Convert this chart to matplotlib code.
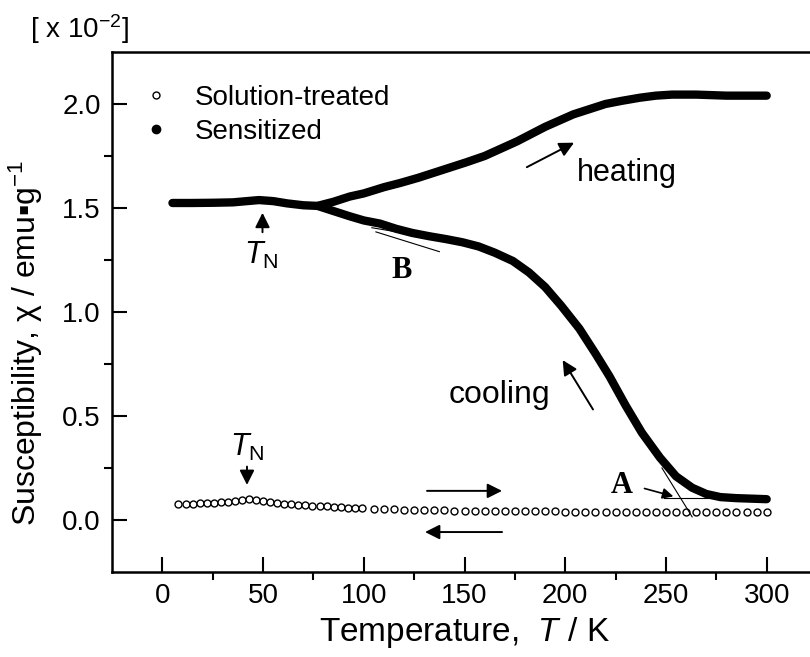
import matplotlib
matplotlib.use("Agg")
import matplotlib.pyplot as plt
from matplotlib.lines import Line2D

plt.rcParams['font.family'] = ['Liberation Sans', 'DejaVu Sans']
plt.rcParams['mathtext.fontset'] = 'custom'
plt.rcParams['mathtext.rm'] = 'Liberation Sans'
plt.rcParams['mathtext.it'] = 'Liberation Sans:italic'

# sensitized, heating branch (T / K, chi x 1e-2 emu/g)
heat_T = [5, 15, 25, 35, 42, 48, 55, 62, 70, 77, 85, 93, 100, 110, 118, 127,
          135, 143, 151, 160, 168, 176, 184, 190, 197, 204, 212, 220, 228, 237,
          245, 253, 265, 280, 300]
heat_chi = [1.524, 1.524, 1.525, 1.527, 1.533, 1.538, 1.533, 1.522, 1.513, 1.51,
            1.53, 1.555, 1.57, 1.60, 1.62, 1.645, 1.67, 1.695, 1.72, 1.75, 1.785,
            1.82, 1.86, 1.89, 1.92, 1.95, 1.975, 2.00, 2.015, 2.03, 2.04, 2.045,
            2.045, 2.04, 2.04]

# sensitized, cooling branch
cool_T = [300, 285, 277, 270, 263, 255, 247, 238, 230, 222, 215, 207, 198, 190,
          182, 174, 165, 157, 149, 141, 132, 124, 116, 108, 100, 93, 85, 77]
cool_chi = [0.10, 0.105, 0.11, 0.125, 0.155, 0.21, 0.30, 0.42, 0.55, 0.69, 0.80,
            0.92, 1.03, 1.12, 1.19, 1.245, 1.285, 1.315, 1.335, 1.35, 1.365,
            1.38, 1.40, 1.425, 1.44, 1.46, 1.485, 1.51]

# solution-treated
sol_T = [8, 11.5, 15, 18.5, 22, 25.5, 29, 32.5, 36, 39.5, 43, 46.5, 50, 53.5, 57,
         60.5, 64, 67.5, 71, 74.5, 78, 81.5, 85, 88.5, 92, 95.5, 99,
         105, 110, 115, 120, 125, 130, 135, 140, 145, 150, 155, 160, 165, 170,
         175, 180, 185, 190, 195, 200, 205, 210, 215, 220, 225, 230, 235, 240,
         245, 250, 255, 260, 265, 270, 275, 280, 285, 290, 295, 300]
sol_chi = [0.077, 0.078, 0.079, 0.080, 0.082, 0.083, 0.085, 0.088, 0.093, 0.097,
           0.100, 0.098, 0.093, 0.088, 0.083, 0.079, 0.076, 0.073, 0.071, 0.069,
           0.067, 0.065, 0.063, 0.061, 0.060, 0.058, 0.057,
           0.055, 0.053, 0.051, 0.050, 0.049, 0.048, 0.047, 0.046, 0.045, 0.044,
           0.044, 0.043, 0.043, 0.042, 0.042, 0.042, 0.041, 0.041, 0.041, 0.040,
           0.040, 0.040, 0.040, 0.040, 0.039, 0.039, 0.039, 0.039, 0.039, 0.039,
           0.038, 0.038, 0.038, 0.038, 0.038, 0.038, 0.038, 0.038, 0.038, 0.038]

fig = plt.figure(figsize=(8.1, 6.57), dpi=100)
ax = fig.add_axes([0.1383, 0.1294, 0.8704, 0.7915])

ax.plot(heat_T, heat_chi, color='k', lw=6, solid_capstyle='round', solid_joinstyle='round')
ax.plot(cool_T, cool_chi, color='k', lw=6, solid_capstyle='round', solid_joinstyle='round')
ax.plot(sol_T, sol_chi, 'o', ms=5, mfc='white', mec='k', mew=1)

ax.set_xlim(-25, 325)
ax.set_ylim(-0.25, 2.25)
ax.set_xticks([0, 50, 100, 150, 200, 250, 300])
ax.set_xticks([25, 75, 125, 175, 225, 275], minor=True)
ax.set_yticks([0.0, 0.5, 1.0, 1.5, 2.0])
ax.set_yticks([0.25, 0.75, 1.25, 1.75], minor=True)
ax.set_yticklabels(['0.0', '0.5', '1.0', '1.5', '2.0'])
ax.tick_params(direction='in', labelsize=20, width=1.5)
ax.tick_params(which='major', length=11, pad=8)
ax.tick_params(which='minor', length=6, width=1.5)
for s in ax.spines.values():
    s.set_linewidth(1.8)

ax.set_xlabel(r'Temperature,  $T$ / K', fontsize=24, labelpad=4)
ax.set_ylabel('Susceptibility, χ / emu▪g$^{-1}$', fontsize=23)
ax.yaxis.set_label_coords(-0.095, 0.44)
fig.text(0.037, 0.955, r'[ x 10$^{-2}$]', fontsize=20, va='center')

handles = [Line2D([], [], ls='none', marker='o', ms=5, mfc='white', mec='k', mew=1),
           Line2D([], [], ls='none', marker='o', ms=6, mfc='k', mec='k')]
ax.legend(handles, ['Solution-treated', 'Sensitized'], loc='upper left',
          bbox_to_anchor=(0.003, 0.985), frameon=False, fontsize=20,
          handlelength=1.2, handletextpad=0.8, labelspacing=0.3)

arr = dict(arrowstyle='-|>', color='k', lw=1.4, mutation_scale=22)
ax.annotate('', xy=(205.6, 1.82), xytext=(179.7, 1.69), arrowprops=arr)
ax.text(206, 1.67, 'heating', fontsize=22, va='center')
ax.annotate('', xy=(198, 0.78), xytext=(214.5, 0.52), arrowprops=arr)
ax.text(142, 0.60, 'cooling', fontsize=23, va='center')
ax.annotate('', xy=(170, 0.14), xytext=(130, 0.14), arrowprops=arr)
ax.annotate('', xy=(129, -0.058), xytext=(170, -0.058), arrowprops=arr)

# Neel temperature marks
ax.annotate('', xy=(49.7, 1.49), xytext=(49.7, 1.37), arrowprops=arr)
ax.text(49, 1.27, r'$T_{\rm N}$', fontsize=22, ha='center', va='center')
ax.annotate('', xy=(42, 0.155), xytext=(42, 0.27), arrowprops=arr)
ax.text(42, 0.35, r'$T_{\rm N}$', fontsize=22, ha='center', va='center')

# tangent constructions
ax.plot([106, 137.5], [1.385, 1.29], color='k', lw=0.8)
ax.plot([104, 132], [1.405, 1.36], color='k', lw=0.8)
ax.text(119, 1.20, 'B', fontsize=22, fontweight='bold', family='Liberation Serif',
        ha='center', va='center')
ax.plot([249, 300], [0.106, 0.106], color='k', lw=0.8)
ax.plot([248, 263], [0.25, 0.015], color='k', lw=0.8)
ax.annotate('', xy=(255, 0.11), xytext=(238, 0.155),
            arrowprops=dict(arrowstyle='-|>', color='k', lw=1.2, mutation_scale=16))
ax.text(228, 0.165, 'A', fontsize=22, fontweight='bold', family='Liberation Serif',
        ha='center', va='center')

fig.savefig('out.png', dpi=100)
